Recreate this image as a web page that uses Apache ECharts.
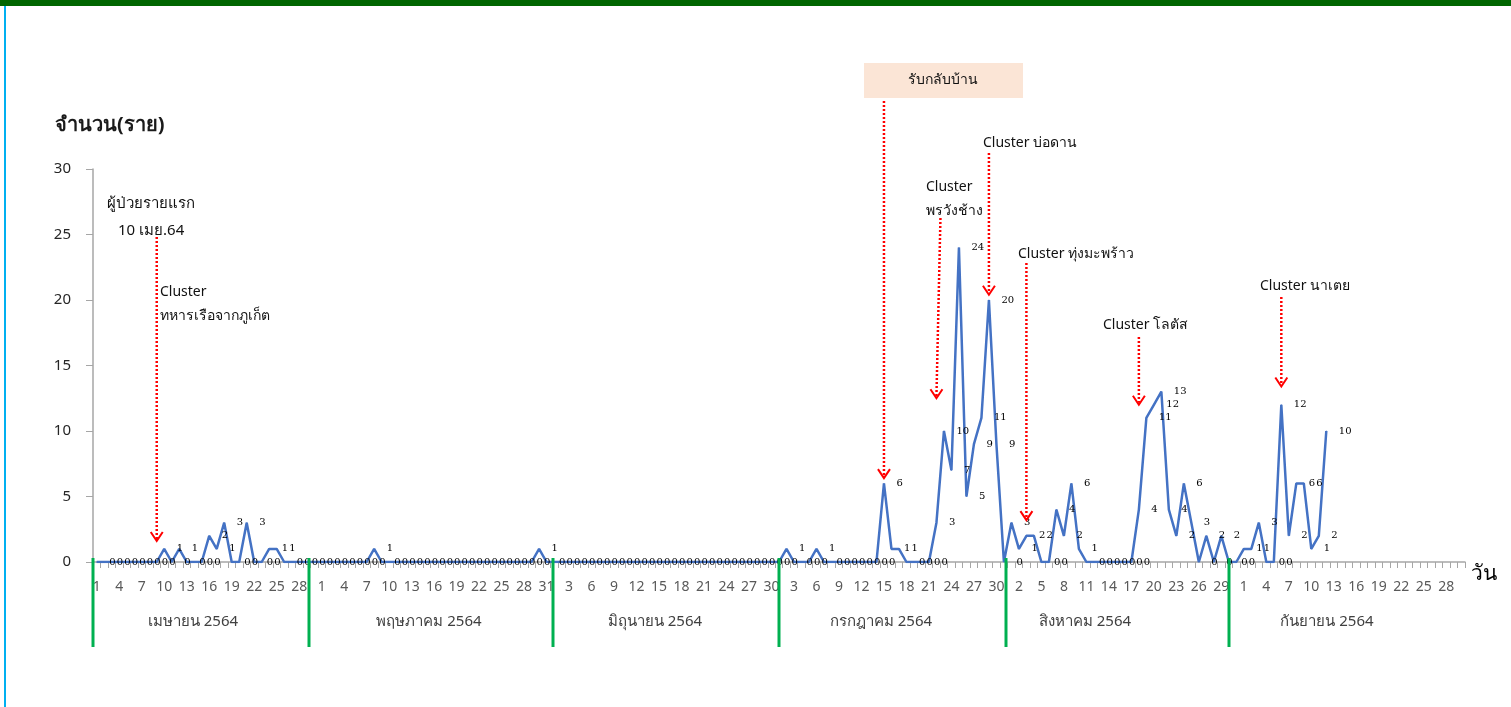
<!DOCTYPE html>
<html>
<head>
<meta charset="utf-8">
<title>จำนวนผู้ป่วยรายวัน เม.ย. - ก.ย. 2564</title>
<script src="https://cdn.jsdelivr.net/npm/echarts@6/dist/echarts.min.js"></script>
<style>
  html, body { margin: 0; padding: 0; background: #fff; }
  #chart { width: 1511px; height: 707px; }
</style>
</head>
<body>
<div id="chart"></div>
<script>
// Daily new cases per month (index 0 = day 1 of the month)
const monthNames = ['เมษายน 2564', 'พฤษภาคม 2564', 'มิถุนายน 2564', 'กรกฎาคม 2564', 'สิงหาคม 2564', 'กันยายน 2564'];
const monthDays = [30, 31, 30, 31, 31, 30];
const casesApr = [0,0,0,0,0,0,0,0,0,1, 0,1,0,0,0,2,1,3,0,0, 3,0,0,1,1,0,0,0,0,0];
const casesMay = [0,0,0,0,0,0,0,1,0,0, 0,0,0,0,0,0,0,0,0,0, 0,0,0,0,0,0,0,0,0,1, 0];
const casesJun = [0,0,0,0,0,0,0,0,0,0, 0,0,0,0,0,0,0,0,0,0, 0,0,0,0,0,0,0,0,0,0];
const casesJul = [0,1,0,0,0,1,0,0,0,0, 0,0,0,0,6,1,1,0,0,0, 0,3,10,7,24,5,9,11,20,9, 0];
const casesAug = [3,1,2,2,0,0,4,2,6,1, 0,0,0,0,0,0,0,4,11,12, 13,4,2,6,3,0,2,0,2,0, 0];
const casesSep = [1,1,3,0,0,12,2,6,6,1, 2,10];
const yTicks = { min: 0, max: 30, step: 5 };

// Event annotations: month index, day of month, arrow tip value, caption lines
const events = [
  { month: 3, day: 15, tip: 6.4, lines: ['รับกลับบ้าน'], boxed: true },
  { month: 0, day: 9, tip: 1.6, lines: ['Cluster', 'ทหารเรือจากภูเก็ต'] },
  { month: 3, day: 22.1, tip: 12.5, lines: ['Cluster', 'พรวังช้าง'] },
  { month: 3, day: 29, tip: 20.4, lines: ['Cluster บ่อดาน'] },
  { month: 4, day: 2.7, tip: 3.2, lines: ['Cluster ทุ่งมะพร้าว'] },
  { month: 4, day: 18.3, tip: 12, lines: ['Cluster โลตัส'] },
  { month: 5, day: 5.7, tip: 13.4, lines: ['Cluster นาเตย'] }
];

// Build the continuous day axis and value series
const days = [];
const values = [];
const monthly = [casesApr, casesMay, casesJun, casesJul, casesAug, casesSep];
const monthStart = [];
monthDays.forEach((n, m) => {
  monthStart.push(days.length);
  for (let d = 1; d <= n; d++) {
    days.push(String(d));
    const v = monthly[m][d - 1];
    values.push(v === undefined ? null : v);
  }
});

const FONT = 'Tahoma, "Noto Sans", "DejaVu Sans", sans-serif';
const chart = echarts.init(document.getElementById('chart'), null, { renderer: 'canvas' });

chart.setOption({
  animation: false,
  backgroundColor: '#ffffff',
  textStyle: { fontFamily: FONT },
  grid: { left: 93, right: 46, top: 169, bottom: 145, containLabel: false },
  xAxis: {
    type: 'category',
    data: days,
    boundaryGap: true,
    name: 'วัน',
    nameLocation: 'end',
    nameGap: 6,
    nameTextStyle: { fontSize: 21, color: '#000', verticalAlign: 'top', lineHeight: 24 },
    axisLine: { lineStyle: { color: '#a6a6a6', width: 1.5 } },
    axisTick: { show: true, interval: 0, length: 6, lineStyle: { color: '#a6a6a6' } },
    axisLabel: { interval: 2, color: '#595959', fontSize: 14, margin: 18 },
    splitLine: { show: false }
  },
  yAxis: {
    type: 'value',
    min: yTicks.min,
    max: yTicks.max,
    interval: yTicks.step,
    axisLine: { show: true, lineStyle: { color: '#a6a6a6', width: 1.5 } },
    axisTick: { show: true, length: 7, lineStyle: { color: '#a6a6a6' } },
    axisLabel: { color: '#262626', fontSize: 15, margin: 22 },
    splitLine: { show: false }
  },
  series: [{
    type: 'line',
    data: values,
    symbol: 'circle',
    symbolSize: 1,
    showSymbol: true,
    showAllSymbol: true,
    connectNulls: false,
    lineStyle: { color: '#4472c4', width: 2.5 },
    itemStyle: { color: '#4472c4' },
    label: {
      show: true,
      position: 'right',
      distance: 12,
      fontSize: 10,
      color: '#000',
      fontFamily: '"DejaVu Serif", serif'
    },
    z: 3
  }]
});

// Decorations: frame, month captions, month separators, event arrows
const px = (idx, val) => chart.convertToPixel({ gridIndex: 0 }, [idx, val]);
const graphics = [];

graphics.push({ type: 'rect', shape: { x: 0, y: 0, width: 1511, height: 6 }, style: { fill: '#006600' }, silent: true });
graphics.push({ type: 'rect', shape: { x: 4, y: 6, width: 2, height: 701 }, style: { fill: '#00b0f0' }, silent: true });

graphics.push({
  type: 'text', left: 55, top: 115,
  style: { text: 'จำนวน(ราย)', fontSize: 20, fontWeight: 'bold', fill: '#1a1a1a', fontFamily: FONT }
});

// Month captions and separator bars
const sepX = [93, 309, 553, 779, 1006, 1229];
const capX = [193, 429, 655, 881, 1085, 1327];
monthNames.forEach((name, m) => {
  graphics.push({
    type: 'text', x: capX[m], y: 622,
    style: { text: name, fontSize: 15, fill: '#404040', align: 'center', verticalAlign: 'middle', fontFamily: FONT }
  });
  graphics.push({
    type: 'line', shape: { x1: sepX[m], y1: 558, x2: sepX[m], y2: 647 },
    style: { stroke: '#00b050', lineWidth: 3 }, z: 10
  });
});

// First-case note
graphics.push({ type: 'text', left: 107, top: 196, style: { text: 'ผู้ป่วยรายแรก', fontSize: 15, fill: '#111', fontFamily: FONT } });
graphics.push({ type: 'text', left: 118, top: 223, style: { text: '10 เมย.64', fontSize: 15, fill: '#111', fontFamily: FONT } });

// Arrow tops and caption placement for each event
const arrowTop = [101, 237, 218, 153, 263, 337, 297];
const captionPos = [[943, 80], [160, 292], [926, 187], [983, 143], [1018, 254], [1103, 325], [1260, 286]];

events.forEach((ev, i) => {
  const idx = monthStart[ev.month] + ev.day - 1;
  const tip = px(idx, ev.tip);
  const topY = arrowTop[i];
  const topX = i === 2 ? tip[0] + 4 : tip[0];
  graphics.push({
    type: 'line', shape: { x1: topX, y1: topY, x2: tip[0], y2: tip[1] - 2 },
    style: { stroke: '#ff0000', lineWidth: 2.5, lineDash: [2, 2] }, z: 20
  });
  graphics.push({
    type: 'polyline', shape: { points: [[tip[0] - 6, tip[1] - 9], [tip[0], tip[1]], [tip[0] + 6, tip[1] - 9]] },
    style: { stroke: '#ff0000', lineWidth: 2, fill: null }, z: 20
  });
  const [cx, cy] = captionPos[i];
  if (ev.boxed) {
    graphics.push({ type: 'rect', shape: { x: 864, y: 63, width: 159, height: 35 }, style: { fill: '#fbe5d6' }, z: 5 });
    graphics.push({
      type: 'text', x: cx, y: cy,
      style: { text: ev.lines[0], fontSize: 14, fill: '#111', align: 'center', verticalAlign: 'middle', fontFamily: FONT }, z: 6
    });
  } else {
    ev.lines.forEach((t, k) => {
      graphics.push({
        type: 'text', x: cx, y: cy + k * 24,
        style: { text: t, fontSize: 14, fill: '#111', align: 'left', verticalAlign: 'middle', fontFamily: FONT }, z: 6
      });
    });
  }
});

chart.setOption({ graphic: graphics });
</script>
</body>
</html>
